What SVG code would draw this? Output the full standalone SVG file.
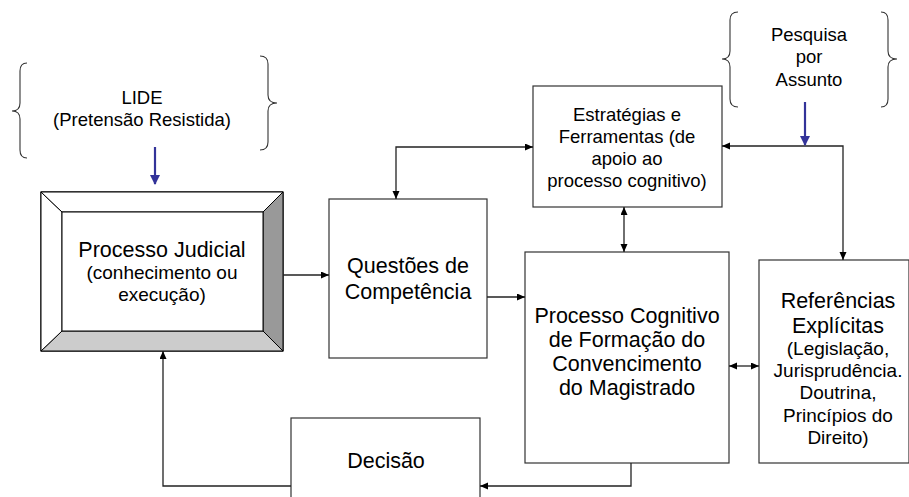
<svg xmlns="http://www.w3.org/2000/svg" width="909" height="497" viewBox="0 0 909 497">
<defs>
<marker id="ah" markerWidth="9" markerHeight="8" refX="8" refY="3.5" orient="auto-start-reverse" markerUnits="userSpaceOnUse"><path d="M0,0 L8,3.5 L0,7 z" fill="#000"/></marker>
<marker id="bh" markerWidth="12" markerHeight="12" refX="9" refY="5" orient="auto" markerUnits="userSpaceOnUse"><path d="M0,0 L10,5 L0,10 z" fill="#333399"/></marker>
</defs>
<style>
text{font-family:"Liberation Sans",Arial,sans-serif;fill:#000;text-anchor:middle}
.t{font-size:21.5px}
.s{font-size:19px}
.m{font-size:18.5px}
.box{fill:#fff;stroke:#333;stroke-width:1.2}
.c{fill:none;stroke:#222;stroke-width:1.3}
.b{fill:none;stroke:#333399;stroke-width:2.2}
.br{fill:none;stroke:#333;stroke-width:1.1}
</style>
<rect width="909" height="497" fill="#fff"/>

<g id="lide">
<path class="br" d="M27,63 Q20,63 20,71 L20,103 Q20,111 12,111 Q20,111 20,119 L20,150 Q20,158 27,158"/>
<path class="br" d="M260,56 Q268,56 268,64 L268,95 Q268,103 277,103 Q268,103 268,111 L268,142 Q268,150 260,150"/>
<text class="m" x="142" y="104">LIDE</text>
<text class="m" x="142" y="126">(Pretensão Resistida)</text>
</g>

<g id="pesquisa">
<path class="br" d="M738,12 Q730,12 730,20 L730,51 Q730,59 722,59 Q730,59 730,67 L730,99 Q730,107 738,107"/>
<path class="br" d="M881,12 Q888,12 888,20 L888,51 Q888,59 897,59 Q888,59 888,67 L888,99 Q888,107 881,107"/>
<text class="m" x="809" y="41">Pesquisa</text>
<text class="m" x="809" y="63">por</text>
<text class="m" x="809" y="86">Assunto</text>
</g>

<g id="processo-judicial">
<rect x="41" y="192" width="242" height="159" fill="#fff" stroke="#000" stroke-width="1.2"/>
<polygon points="263,212 283,192 283,351 263,331" fill="#999" stroke="#000" stroke-width="1"/>
<polygon points="41,351 62,331 263,331 283,351" fill="#ccc" stroke="#000" stroke-width="1"/>
<polygon points="41,192 62,212 62,331 41,351" fill="#fff" stroke="#000" stroke-width="1"/>
<polygon points="41,192 283,192 263,212 62,212" fill="#fff" stroke="#000" stroke-width="1"/>
<rect x="62" y="212" width="201" height="119" fill="#fff" stroke="#000" stroke-width="1"/>
<text class="t" x="162" y="257">Processo Judicial</text>
<text class="s" x="162" y="279">(conhecimento ou</text>
<text class="s" x="162" y="301">execução)</text>
</g>

<g id="questoes">
<rect class="box" x="329" y="199" width="158" height="159"/>
<text class="t" x="408" y="273">Questões de</text>
<text class="t" x="408" y="299">Competência</text>
</g>

<g id="estrategias">
<rect class="box" x="533" y="86" width="189" height="121"/>
<text class="m" x="627" y="121">Estratégias e</text>
<text class="m" x="627" y="143">Ferramentas (de</text>
<text class="m" x="627" y="165">apoio ao</text>
<text class="m" x="627" y="187">processo cognitivo)</text>
</g>

<g id="cognitivo">
<rect class="box" x="525" y="252" width="204" height="211"/>
<text class="t" x="627" y="323">Processo Cognitivo</text>
<text class="t" x="627" y="347">de Formação do</text>
<text class="t" x="627" y="371">Convencimento</text>
<text class="t" x="627" y="395">do Magistrado</text>
</g>

<g id="referencias">
<rect class="box" x="759" y="260" width="150" height="203"/>
<text class="t" x="838" y="308">Referências</text>
<text class="t" x="838" y="333">Explícitas</text>
<text class="s" x="838" y="355">(Legislação,</text>
<text class="s" x="838" y="377">Jurisprudência.</text>
<text class="s" x="838" y="399">Doutrina,</text>
<text class="s" x="838" y="422">Princípios do</text>
<text class="s" x="838" y="444">Direito)</text>
</g>

<g id="decisao">
<rect class="box" x="291" y="418" width="189" height="90"/>
<text class="t" x="386" y="468">Decisão</text>
</g>

<g id="connectors">
<path class="c" d="M283,275 H329" marker-end="url(#ah)"/>
<path class="c" d="M487,297 H525" marker-end="url(#ah)"/>
<path class="c" d="M396,199 V147 H533" marker-start="url(#ah)" marker-end="url(#ah)"/>
<path class="c" d="M624,207 V252" marker-start="url(#ah)" marker-end="url(#ah)"/>
<path class="c" d="M722,146 H843 V260" marker-start="url(#ah)" marker-end="url(#ah)"/>
<path class="c" d="M729,366 H759" marker-start="url(#ah)" marker-end="url(#ah)"/>
<path class="c" d="M631,463 V486 H480" marker-end="url(#ah)"/>
<path class="c" d="M291,486 H163 V351" marker-end="url(#ah)"/>
<path class="b" d="M155,147 V184" marker-end="url(#bh)"/>
<path class="b" d="M805,102 V145" marker-end="url(#bh)"/>
</g>
</svg>
